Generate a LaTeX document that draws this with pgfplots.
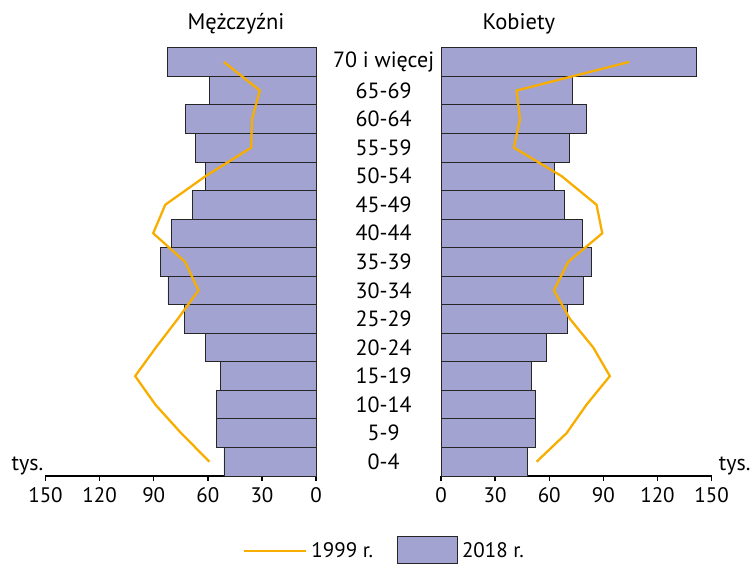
\documentclass[border=0pt]{standalone}
\usepackage{fontspec}
\setmainfont{PT Sans}
\usepackage{pgfplots}
\usepackage{pgfplotstable}
\pgfplotsset{compat=1.18}
\definecolor{barfill}{HTML}{A3A3D1}
\definecolor{lineor}{HTML}{F7AE00}

% idx: 0 = 0-4 ... 14 = 70 i wiecej; values in thousands
\pgfplotstableread{
idx  m18   m99    w18    w99
0    51.1  59.1   47.8   53.0
1    55.3  74.8   52.3   69.6
2    55.0  89.1   52.3   80.7
3    52.9  100.3  50.0   93.6
4    61.3  88.8   58.7   84.4
5    72.8  76.7   70.0   71.5
6    82.1  65.2   78.9   62.6
7    86.2  72.6   83.3   70.5
8    80.0  90.3   78.3   89.4
9    68.3  83.6   68.5   86.2
10   61.3  61.3   62.8   66.9
11   66.7  36.0   70.9   40.4
12   72.2  35.5   80.5   43.8
13   58.9  31.2   72.6   41.9
14   82.6  51.1   141.3  104.2
}\pyramid

\pgfplotsset{
  pyr/.style={
    scale only axis,
    width=270.6pt, height=428.3pt,
    xmin=0, xmax=150, ymin=-0.5, ymax=14.5,
    xtick={0,30,...,150},
    axis x line*=bottom,
    axis y line*=right,
    y axis line style={draw=none},
    major y tick style={draw=none},
    x axis line style={line width=1.6pt,-},
    major x tick style={line width=1.4pt,black},
    tick align=outside,
    major tick length=5pt,
    xticklabel style={font=\fontsize{21}{24}\selectfont, yshift=-3pt},
    /pgf/number format/assume math mode=true,
    clip=false,
  },
  bars/.style={xbar, bar width=1, fill=barfill, draw=black!85, line width=0.8pt},
  old/.style={lineor, line width=2.3pt, no marks, sharp plot},
}

\begin{document}
\begin{tikzpicture}
\useasboundingbox (0pt,0pt) rectangle (753pt,563pt);

\begin{axis}[pyr,
  at={(45.5pt,87pt)}, anchor=south west,
  x dir=reverse,
  ytick={0,...,14},
  yticklabel pos=right,
  yticklabels={0-4,5-9,10-14,15-19,20-24,25-29,30-34,35-39,40-44,45-49,50-54,55-59,60-64,65-69,70 i więcej},
  yticklabel style={anchor=center, xshift=62.5pt, font=\fontsize{22}{25}\selectfont},
  title={Mężczyźni},
  title style={at={(axis description cs:0.704,1)}, anchor=south, yshift=4pt, font=\fontsize{22.5}{25}\selectfont},
  xlabel={tys.},
  xlabel style={at={(axis description cs:0,0)}, anchor=south east, inner sep=1pt, xshift=-1pt, font=\fontsize{22}{25}\selectfont},
  legend columns=2,
  legend style={at={(axis description cs:0.719,-0.172)}, anchor=west, draw=none, fill=none,
    font=\fontsize{21}{24}\selectfont,
    /tikz/every even column/.append style={column sep=20pt},
    nodes={inner sep=4pt}},
  legend cell align=left,
]
\addplot[bars, forget plot] table[x=m18, y=idx] {\pyramid};
\addplot[old, forget plot] table[x=m99, y=idx] {\pyramid};
\addlegendimage{legend image code/.code={\draw[lineor, line width=2.2pt] (0pt,0pt) -- (62pt,0pt);}}
\addlegendentry{1999 r.}
\addlegendimage{legend image code/.code={\draw[fill=barfill, draw=black!85, line width=0.8pt] (0pt,-12pt) rectangle (60pt,15pt);}}
\addlegendentry{2018 r.}
\end{axis}

\begin{axis}[pyr,
  at={(441pt,87pt)}, anchor=south west,
  ytick=\empty,
  title={Kobiety},
  title style={at={(axis description cs:0.288,1)}, anchor=south, yshift=4pt, font=\fontsize{22.5}{25}\selectfont},
  xlabel={tys.},
  xlabel style={at={(axis description cs:1,0)}, anchor=south west, inner sep=1pt, xshift=6pt, font=\fontsize{22}{25}\selectfont},
]
\addplot[bars] table[x=w18, y=idx] {\pyramid};
\addplot[old] table[x=w99, y=idx] {\pyramid};
\end{axis}
\end{tikzpicture}
\end{document}
